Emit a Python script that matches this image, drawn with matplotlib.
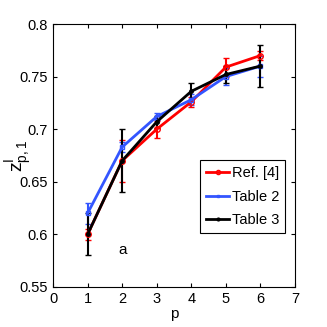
import matplotlib
matplotlib.use('Agg')
import matplotlib.pyplot as plt
from matplotlib.lines import Line2D

plt.rcParams['font.family'] = ['Liberation Sans', 'DejaVu Sans']

p = [1, 2, 3, 4, 5, 6]

# Ref. [4]
ref_val = [0.600, 0.670, 0.700, 0.726, 0.759, 0.770]
ref_err = [0.005, 0.020, 0.008, 0.005, 0.009, 0.004]
# Table 2
t2_val = [0.620, 0.683, 0.712, 0.728, 0.750, 0.760]
t2_err = [0.010, 0.005, 0.003, 0.005, 0.008, 0.010]
# Table 3
t3_val = [0.600, 0.670, 0.707, 0.736, 0.752, 0.760]
t3_err = [0.020, 0.030, 0.006, 0.008, 0.008, 0.020]

fig = plt.figure(figsize=(3.27, 3.27), dpi=100)
ax = fig.add_axes([53/327, 1 - 287/327, 242/327, 263/327])

styles = [
    (ref_val, ref_err, '#ff0000', 'o', 4, 'Ref. [4]'),
    (t2_val, t2_err, '#3355ff', 's', 3, 'Table 2'),
    (t3_val, t3_err, 'black', '.', 5, 'Table 3'),
]
handles = []
for val, err, c, m, ms, lab in styles:
    ax.errorbar(p, val, yerr=err, color=c, marker=m, ms=ms,
                mfc='none' if m != '.' else c, lw=2, capsize=2,
                elinewidth=1.5)
    handles.append(Line2D([], [], color=c, marker=m, ms=ms - 1,
                          mfc='none' if m != '.' else c, lw=2, label=lab))

ax.set_xlim(0, 7)
ax.set_ylim(0.55, 0.8)
ax.set_xticks(range(8))
ax.set_yticks([0.55, 0.6, 0.65, 0.7, 0.75, 0.8])
ax.set_yticklabels(['0.55', '0.6', '0.65', '0.7', '0.75', '0.8'])
ax.tick_params(direction='in', top=True, right=True, labelsize=10.5, length=3)
ax.set_xlabel('p', fontsize=11, labelpad=1)
ax.set_ylabel(r'$\mathregular{z^{I}_{p,1}}$', fontsize=14)
ax.yaxis.set_label_coords(-0.08, 0.5)
ax.text(2, 0.585, 'a', fontsize=11, ha='center', va='center')

leg = ax.legend(handles=handles, loc='lower right', bbox_to_anchor=(0.96, 0.205),
                fontsize=10.5, fancybox=False, edgecolor='black',
                framealpha=1, handlelength=1.6, handletextpad=0.2,
                borderpad=0.4, labelspacing=0.65, borderaxespad=0)
leg.get_frame().set_linewidth(0.8)

fig.savefig('out.png', dpi=100)
